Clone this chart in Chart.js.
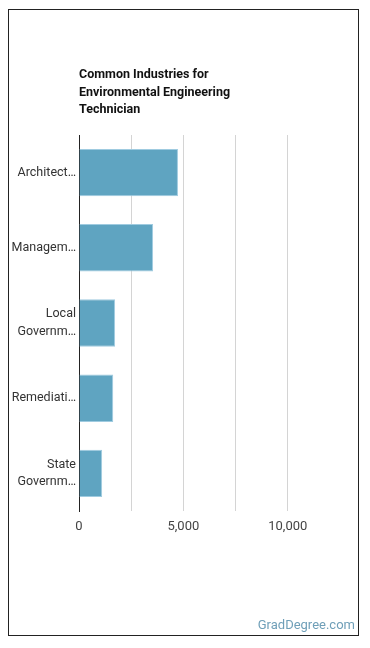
<!DOCTYPE html>
<html>
<head>
<meta charset="utf-8">
<script src="https://cdn.jsdelivr.net/npm/chart.js@4/dist/chart.umd.min.js"></script>
<style>
  html, body { margin: 0; padding: 0; background: #fff; }
  #wrap { position: relative; width: 370px; height: 648px; overflow: hidden; }
  #frame { position: absolute; left: 8px; top: 9px; width: 349px; height: 625px; border: 1px solid #222; }
  #title { position: absolute; left: 79px; top: 65px; font: bold 12.5px Roboto, sans-serif; line-height: 17.5px; color: #111; }
  #mark { position: absolute; right: 15px; top: 617px; font: 13px Roboto, sans-serif; color: #6f9fb8; }
  canvas { position: absolute; left: 0; top: 0; }
</style>
</head>
<body>
<div id="wrap">
  <div id="frame"></div>
  <canvas id="c" width="370" height="648"></canvas>
  <div id="title">Common Industries for<br>Environmental Engineering<br>Technician</div>
  <div id="mark">GradDegree.com</div>
</div>
<script>
const categories = [
  ["Architect…"],
  ["Managem…"],
  ["Local", "Governm…"],
  ["Remediati…"],
  ["State", "Governm…"]
];
const employees = [4740, 3550, 1730, 1640, 1110];
const tickValues = [0, 2500, 5000, 7500, 10000, 12500];
const tickLabels = ["0", "", "5,000", "", "10,000", ""];

new Chart(document.getElementById('c'), {
  type: 'bar',
  data: {
    labels: categories,
    datasets: [{
      data: employees,
      backgroundColor: '#5fa4c1',
      borderColor: '#9fcbe0',
      borderWidth: 1,
      borderSkipped: 'left',
      barPercentage: 0.7,
      categoryPercentage: 0.9
    }]
  },
  options: {
    indexAxis: 'y',
    responsive: false,
    animation: false,
    layout: { padding: { left: 0, top: 135, right: 30, bottom: 107 } },
    plugins: { legend: { display: false }, tooltip: { enabled: false } },
    scales: {
      x: {
        min: tickValues[0],
        max: tickValues[tickValues.length - 1],
        afterBuildTicks: (s) => { s.ticks = tickValues.map(v => ({ value: v })); },
        afterFit: (s) => { s.height = 30; },
        ticks: {
          padding: 8,
          color: '#444',
          font: { family: 'Roboto', size: 13 },
          maxRotation: 0,
          autoSkip: false,
          callback: (v, i) => tickLabels[i]
        },
        grid: {
          drawTicks: false,
          color: (ctx) => ctx.index === tickValues.length - 1 ? 'rgba(0,0,0,0)' : '#d4d4d4'
        },
        border: { display: false }
      },
      y: {
        afterFit: (s) => { s.width = 79; },
        ticks: {
          padding: 3,
          color: '#333',
          font: { family: 'Roboto', size: 12.5, lineHeight: 1.42 },
          autoSkip: false
        },
        grid: { display: false, drawTicks: false },
        border: { display: true, color: '#222', width: 1 }
      }
    }
  }
});
</script>
</body>
</html>
